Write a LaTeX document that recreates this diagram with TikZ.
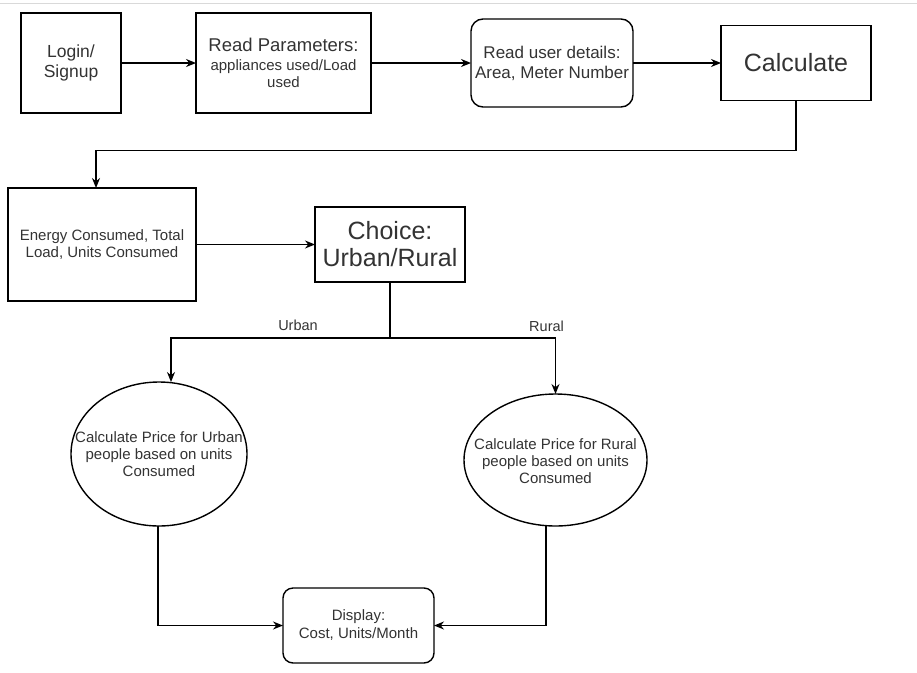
\documentclass[tikz,border=0pt]{standalone}
\usepackage{fontspec}
\setmainfont{Liberation Sans}
\usepackage{tikz}
\usetikzlibrary{arrows.meta, positioning, shapes.geometric}

\definecolor{txtgray}{HTML}{333333}

\begin{document}
\begin{tikzpicture}[x=1pt, y=-1pt, >={Stealth[length=10pt, width=8pt]}, line width=1.4pt]
    % Definición de estilos para bloques, óvalos y etiquetas
    \tikzstyle{block} = [draw, rectangle, inner sep=0pt, outer sep=0pt, align=center, text=txtgray]
    \tikzstyle{rblock} = [block, rounded corners=12pt]
    \tikzstyle{oval} = [draw, ellipse, inner sep=0pt, outer sep=0pt]
    \tikzstyle{txt} = [align=center, text=txtgray, inner sep=0pt, font=\fontsize{15}{17}\selectfont]
    \tikzstyle{lbl} = [text=txtgray, inner sep=0pt, font=\fontsize{14.5}{17}\selectfont]

    \useasboundingbox (0,0) rectangle (917,672);
    \draw[black!15, line width=1pt] (0,3) -- (917,3); % borde superior

    % Fila superior
    \node [block, minimum width=100pt, minimum height=100pt, font=\fontsize{17.5}{20}\selectfont] (login) at (71,63) {Login/\\Signup};
    \node [block, right=75pt of login, minimum width=175pt, minimum height=100pt, font=\fontsize{15}{17}\selectfont] (readp) {{\fontsize{18.5}{21}\selectfont Read Parameters:}\\[2pt]appliances used/Load\\used};
    \node [rblock, right=100pt of readp, minimum width=162pt, minimum height=88pt, font=\fontsize{17}{20}\selectfont] (user) {Read user details:\\Area, Meter Number};
    \node [block, right=88pt of user, minimum width=150pt, minimum height=75pt, font=\fontsize{25}{27}\selectfont] (calc) {Calculate};

    % Fila central
    \node [block, minimum width=188pt, minimum height=113pt, font=\fontsize{15}{17}\selectfont] (energy) at (102,244.5) {Energy Consumed, Total\\Load, Units Consumed};
    \node [block, right=119pt of energy, minimum width=150pt, minimum height=75pt, font=\fontsize{25}{27}\selectfont] (choice) {Choice:\\Urban/Rural};
    \coordinate [below=56pt of choice.south] (split); % punto de bifurcación

    % Óvalos de cálculo de precio
    \node [oval, minimum width=176pt, minimum height=144pt] (urban) at (159,454) {};
    \node [txt] (urbantxt) at (urban) {Calculate Price for Urban\\people based on units\\Consumed};
    \node [oval, minimum width=183pt, minimum height=132pt] (rural) at (555.5,460) {};
    \node [txt] (ruraltxt) at (555.5,461.5) {Calculate Price for Rural\\people based on units\\Consumed};

    % Salida
    \node [rblock, rounded corners=10pt, minimum width=151pt, minimum height=75pt, font=\fontsize{15}{18}\selectfont] (display) at (358.5,625.5) {Display:\\Cost, Units/Month};

    \draw[->] (login) -- (readp);
    \draw[->] (readp) -- (user);
    \draw[->] (user) -- (calc);
    \draw[->] (calc.south) -- ++(0,50) -| ([xshift=-6pt]energy.north);
    \draw[->] (energy) -- (choice);
    \draw (choice.south) -- (split);
    \draw[->] (split) -| node[lbl, above=7pt, pos=0.21] {Urban} ([xshift=12pt]urban.north);
    \draw[->] (split) -| node[lbl, above=6pt, pos=0.473] {Rural} (rural.north);
    \draw[->] ([xshift=-1pt]urban.south) |- (display.west);
    \draw[->] ([xshift=-9.5pt]rural.south) |- (display.east); % desde el óvalo rural

\end{tikzpicture}
\end{document}
